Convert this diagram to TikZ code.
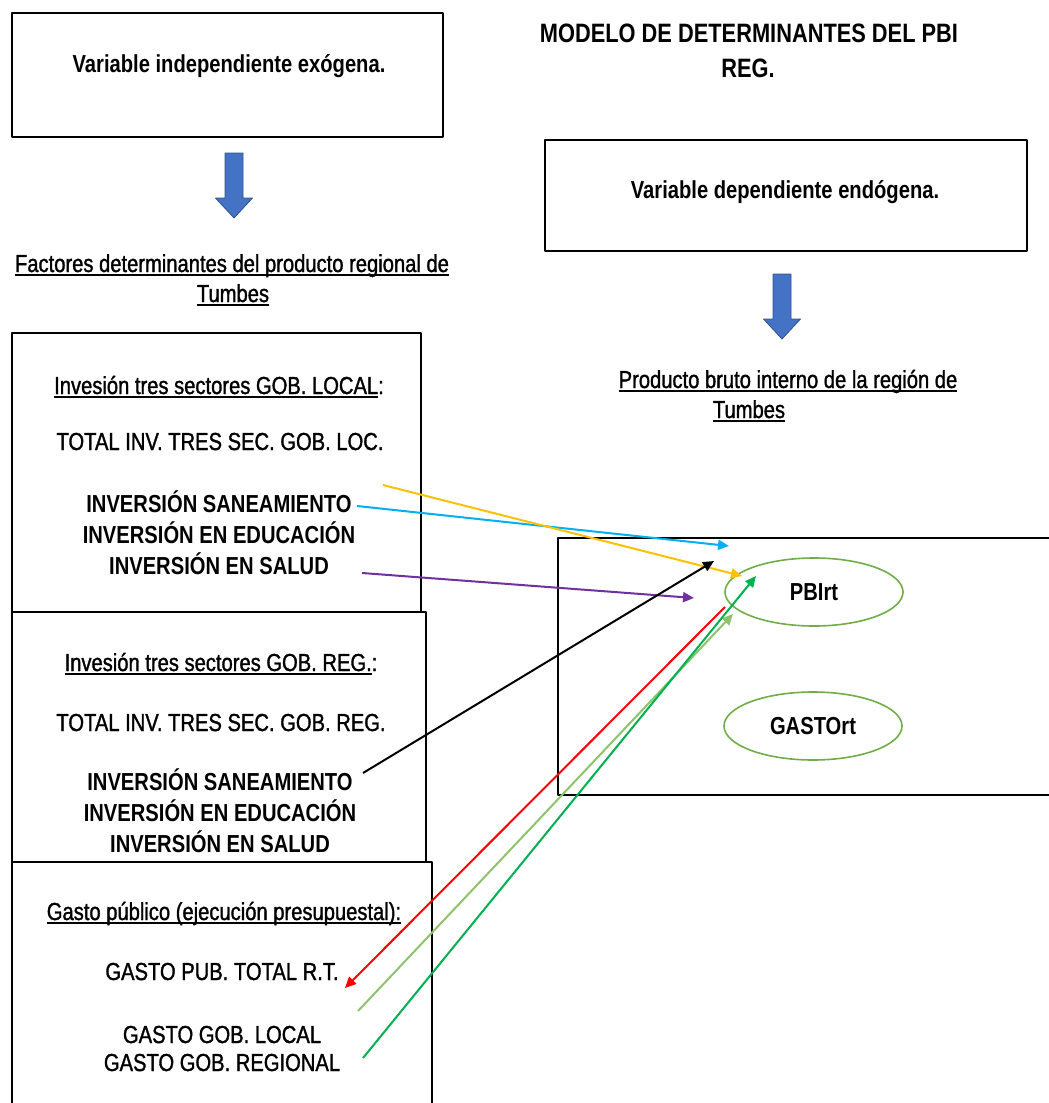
\documentclass[tikz,border=0pt]{standalone}
\usepackage{fontspec}
\setmainfont{Liberation Sans}[FakeStretch=0.82]
\newfontfamily\fuentemedia{Liberation Sans}[FakeStretch=0.82,FakeBold=1.3]
\usetikzlibrary{arrows.meta,shapes.geometric}
\newsavebox\subcaja
\newcommand{\subr}[1]{\sbox\subcaja{#1}\rlap{\rule[-1.8pt]{\wd\subcaja}{0.6pt}}\usebox\subcaja}
\definecolor{azulfl}{HTML}{4472C4}
\definecolor{bordefl}{HTML}{2F528F}
\definecolor{verdeel}{HTML}{70AD47}
\definecolor{amarillo}{HTML}{FFC000}
\definecolor{celeste}{HTML}{00B0F0}
\definecolor{morado}{HTML}{7030A0}
\definecolor{rojo}{HTML}{FF0000}
\definecolor{oliva}{HTML}{8FC36B}
\definecolor{verdeosc}{HTML}{00B050}
\tikzset{
	caja/.style={draw=black,line width=0.9pt},
	txt/.style={font=\fontsize{12.3}{15.5}\fuentemedia,inner sep=0pt,anchor=base},
	txtb/.style={txt,font=\fontsize{12.3}{15.5}\selectfont\bfseries},
	elip/.style={ellipse,draw=verdeel,line width=0.8pt,minimum width=89pt,minimum height=34pt,inner sep=0pt,
		font=\fontsize{12.3}{15.5}\selectfont\bfseries},
	flecha/.style={line width=1pt,-{Triangle[length=5.5pt,width=5pt]}}
}
\begin{document}
\begin{tikzpicture}[x=0.5pt,y=-0.5pt,line join=round]
	\useasboundingbox (0,0) rectangle (1049,1103);
	%cajas
	\draw[caja] (12,13) rectangle (443,137);
	\draw[caja] (545,140) rectangle (1027,251);
	\draw[caja] (12,612) -- (12,333) -- (421,333) -- (421,612);
	\draw[caja] (12,862) -- (12,612) -- (426,612) -- (426,862);
	\draw[caja] (12,1103) -- (12,862) -- (432,862) -- (432,1103);
	\draw[caja] (1049,538) -- (558,538) -- (558,795) -- (1049,795);
	%flechas azules
	\foreach \cx/\ty in {234/153,782/274}
	\draw[fill=azulfl,draw=bordefl,line width=0.4pt] (\cx-9,\ty) -- (\cx+9,\ty) -- (\cx+9,\ty+45)
		-- (\cx+18.5,\ty+45) -- (\cx,\ty+65) -- (\cx-18.5,\ty+45) -- (\cx-9,\ty+45) -- cycle;
	%textos
	\node[txtb] (varind) at (229,72) {Variable independiente exógena.};
	\node[txtb,font=\fontsize{13.3}{17}\selectfont\bfseries] (tit1) at (749,42) {MODELO DE DETERMINANTES DEL PBI};
	\node[txtb,font=\fontsize{13.3}{17}\selectfont\bfseries] (tit2) at (748,77) {REG.};
	\node[txt] (fac1) at (232,272) {\subr{Factores determinantes del producto regional de}};
	\node[txt] (fac2) at (233,302) {\subr{Tumbes}};
	\node[txtb] (vardep) at (785,198) {Variable dependiente endógena.};
	\node[txt] (pbr1) at (788,388) {\subr{Producto bruto interno de la región de}};
	\node[txt] (pbr2) at (749,418) {\subr{Tumbes}};
	\node[txt] (locH) at (219,394) {\subr{Invesión tres sectores GOB. LOCAL}:};
	\node[txt] (locT) at (220,450) {TOTAL INV. TRES SEC. GOB. LOC.};
	\foreach \y/\t [count=\i] in {512/INVERSIÓN SANEAMIENTO,543/INVERSIÓN EN EDUCACIÓN,574/INVERSIÓN EN SALUD}
	\node[txtb] (locI\i) at (219,\y) {\t};
	\node[txt] (regH) at (221,671) {\subr{Invesión tres sectores GOB. REG.}:};
	\node[txt] (regT) at (221,731) {TOTAL INV. TRES SEC. GOB. REG.};
	\foreach \y/\t [count=\i] in {790/INVERSIÓN SANEAMIENTO,821/INVERSIÓN EN EDUCACIÓN,852/INVERSIÓN EN SALUD}
	\node[txtb] (regI\i) at (220,\y) {\t};
	\node[txt] (gasH) at (224,920) {\subr{Gasto público (ejecución presupuestal):}};
	\node[txt] (gasT) at (222,980) {GASTO PUB. TOTAL R.T.};
	\node[txt] (gasL) at (222,1043) {GASTO GOB. LOCAL};
	\node[txt] (gasR) at (222,1071) {GASTO GOB. REGIONAL};
	\node[elip] (pbi) at (814,592) {PBIrt};
	\node[elip] (gasto) at (813,726) {GASTOrt};
	%extremos de las flechas
	\coordinate (amA) at (383,485);  \coordinate (amB) at (742,576);
	\coordinate (ceA) at (357,506);  \coordinate (ceB) at (729,546);
	\coordinate (moA) at (362,573);  \coordinate (moB) at (694,598);
	\coordinate (neA) at (363,773);  \coordinate (neB) at (714,561);
	\coordinate (roA) at (725,607);  \coordinate (roB) at (345,988);
	\coordinate (olA) at (358,1011); \coordinate (olB) at (733,614);
	\coordinate (veA) at (363,1058); \coordinate (veB) at (756,576);
	\draw[flecha,celeste] (ceA) -- (ceB);
	\draw[flecha,amarillo] (amA) -- (amB);
	\draw[flecha,morado] (moA) -- (moB);
	\draw[flecha,black] (neA) -- (neB);
	\draw[flecha,rojo] (roA) -- (roB);
	\draw[flecha,oliva] (olA) -- (olB);
	\draw[flecha,verdeosc] (veA) -- (veB);
\end{tikzpicture}
\end{document}
